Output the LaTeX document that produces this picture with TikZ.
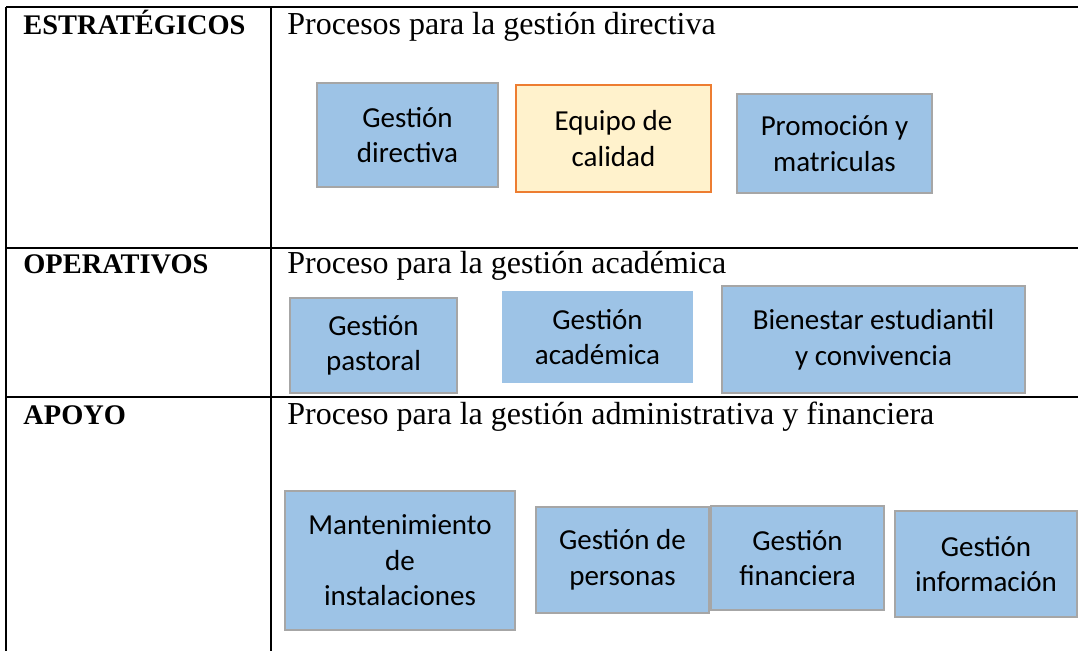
\documentclass[tikz,border=0pt]{standalone}
\usepackage{fontspec}
\setmainfont{Liberation Serif}
\newfontfamily\boxfont{Carlito}
\definecolor{procblue}{RGB}{157, 195, 230}
\definecolor{procgray}{RGB}{166, 166, 166}
\definecolor{calorange}{RGB}{237, 125, 49}
\definecolor{calfill}{RGB}{255, 242, 204}
\usetikzlibrary{positioning}

\begin{document}
\begin{tikzpicture}[x=0.5pt, y=-0.5pt,
  grid/.style={line width=1.25pt, black},
  rowlabel/.style={anchor=base west, inner sep=0pt, font=\fontsize{14.2}{17}\selectfont\bfseries},
  rowtitle/.style={anchor=base west, inner sep=0pt, font=\fontsize{16}{19}\selectfont},
  proc/.style={draw=procgray, line width=0.6pt, fill=procblue, inner sep=0pt, align=center, font=\boxfont\fontsize{14.5}{17.8}\selectfont},
  calidad/.style={proc, draw=calorange, line width=1.1pt, fill=calfill}]
  \useasboundingbox (0,0) rectangle (1078,651);

  % Table lines
  \draw[grid] (6,7) -- (1078,7);
  \draw[grid] (6,248) -- (1078,248);
  \draw[grid] (6,397) -- (1078,397);
  \draw[grid] (6,7) -- (6,651);
  \draw[grid] (271,7) -- (271,651);

  % Row headings
  \node[rowlabel] (estr) at (23,35) {ESTRATÉGICOS};
  \node[rowtitle] (estrt) at (287,35) {Procesos para la gestión directiva};
  \node[rowlabel] (oper) at (23,274) {OPERATIVOS};
  \node[rowtitle] (opert) at (287,274) {Proceso para la gestión académica};
  \node[rowlabel] (apoyo) at (23,425) {APOYO};
  \node[rowtitle] (apoyot) at (287,425) {Proceso para la gestión administrativa y financiera};

  % Estrategicos
  \node[proc, minimum width=90.5pt, minimum height=52pt] (gdir) at (407.5,135) {Gestión\\directiva};
  \node[calidad, minimum width=97.5pt, minimum height=53.5pt] (equipo) at (613.5,138.5) {Equipo de\\calidad};
  \node[proc, minimum width=97.5pt, minimum height=49.5pt] (promo) at (834.5,143.5) {Promoción y\\matriculas};

  % Operativos
  \node[proc, minimum width=83.5pt, minimum height=47.5pt] (gpast) at (373.5,345.5) {Gestión\\pastoral};
  \node[proc, minimum width=95.5pt, minimum height=46pt, draw=none] (gacad) at (597.5,337) {Gestión\\académica};
  \node[proc, minimum width=151.5pt, minimum height=53.5pt] (bienestar) at (873.5,339.5) {Bienestar estudiantil\\y convivencia};

  % Apoyo
  \node[proc, minimum width=115pt, minimum height=69.5pt] (mant) at (400,560.5) {Mantenimiento\\de\\instalaciones};
  \node[proc, minimum width=86.5pt, minimum height=53pt] (gpers) at (622.5,560) {Gestión de\\personas};
  \node[proc, minimum width=86.5pt, minimum height=52pt] (gfin) at (797.5,558) {Gestión\\financiera};
  \node[proc, minimum width=91pt, minimum height=53pt] (ginfo) at (986,564) {Gestión\\información};
\end{tikzpicture}
\end{document}
